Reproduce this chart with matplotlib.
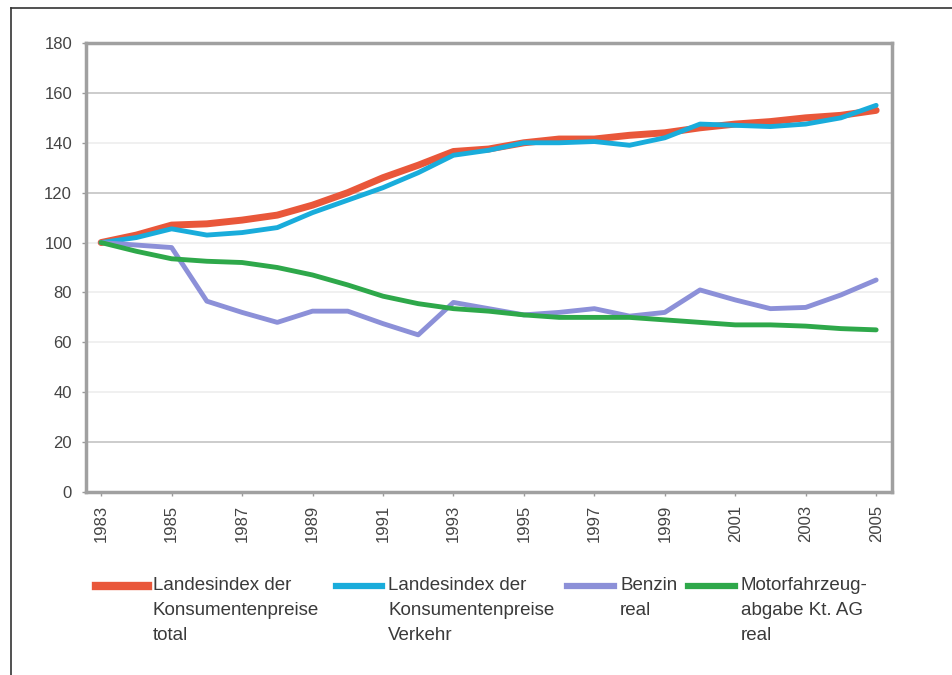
import numpy as np
import matplotlib.pyplot as plt
from matplotlib.lines import Line2D

plt.rcParams['font.family'] = ['Liberation Sans', 'DejaVu Sans']

years = list(range(1983, 2006))

total = [100, 103, 107, 107.5, 109, 111, 115, 120, 126, 131, 136.5, 137.5,
         140, 141.5, 141.5, 143, 144, 146, 147.5, 148.5, 150, 151, 153]
verkehr = [100, 102, 105.5, 103, 104, 106, 112, 117, 122, 128, 135, 137,
           140, 140, 140.5, 139, 142, 147.5, 147, 146.5, 147.5, 150, 155]
benzin = [100, 99, 98, 76.5, 72, 68, 72.5, 72.5, 67.5, 63, 76, 73.5,
          71, 72, 73.5, 70.5, 72, 81, 77, 73.5, 74, 79, 85]
mfz = [100, 96.5, 93.5, 92.5, 92, 90, 87, 83, 78.5, 75.5, 73.5, 72.5,
       71, 70, 70, 70, 69, 68, 67, 67, 66.5, 65.5, 65]

labels = ['Landesindex der\nKonsumentenpreise\ntotal',
          'Landesindex der\nKonsumentenpreise\nVerkehr',
          'Benzin\nreal',
          'Motorfahrzeug-\nabgabe Kt. AG\nreal']
colors = ['#E9573A', '#19ACDB', '#8C90D8', '#2EA84A']
widths = [5, 3.5, 3.5, 3.5]

W, H = 952, 675
fig = plt.figure(figsize=(W / 100, H / 100), dpi=100)
fig.patch.set_facecolor('white')
ax = fig.add_axes([86 / W, 1 - 492 / H, 806 / W, 449 / H])

for vals, c, w in zip([total, verkehr, benzin, mfz], colors, widths):
    ax.plot(years, vals, color=c, linewidth=w, solid_capstyle='round')

ax.set_xlim(1982.57, 2005.45)
ax.set_ylim(0, 180)
ax.set_yticks(range(0, 181, 20))
ax.set_xticks(years[::2])
ax.set_xticklabels([str(y) for y in years[::2]], rotation=90)
ax.tick_params(axis='both', labelsize=12, colors='#999999', length=3,
               width=1, labelcolor='#444444')
ax.tick_params(axis='y', pad=7)
ax.tick_params(axis='x', pad=6)

# gridlines: some are faint in the original
ax.yaxis.grid(True, color='#ededed', linewidth=1.2)
for gl, v in zip(ax.get_ygridlines(), range(0, 181, 20)):
    if v in (20, 120, 160):
        gl.set_color('#c4c4c4')
ax.set_axisbelow(True)
for s in ax.spines.values():
    s.set_color('#a0a0a0')
    s.set_linewidth(2.5)

# legend drawn by hand so the text top lines up with the handle
handle_x = [(96, 148), (336, 382), (567, 614), (688, 735)]
text_x = [153, 388, 620, 741]
hy = 1 - 586 / H
for (x0, x1), tx, c, w, lab in zip(handle_x, text_x, colors, widths, labels):
    fig.add_artist(Line2D([x0 / W, x1 / W], [hy, hy], color=c, linewidth=w + 1))
    fig.text(tx / W, 1 - 577 / H, lab, ha='left', va='top', fontsize=13.5,
             color='#3a3a3a', linespacing=1.6)

# outer frame (top and left edges visible)
fig.add_artist(Line2D([11 / W, 1.0], [1 - 8 / H, 1 - 8 / H], color='#333333', linewidth=1.2))
fig.add_artist(Line2D([11 / W, 11 / W], [0.0, 1 - 8 / H], color='#333333', linewidth=1.2))

fig.savefig('out.png', dpi=100)
